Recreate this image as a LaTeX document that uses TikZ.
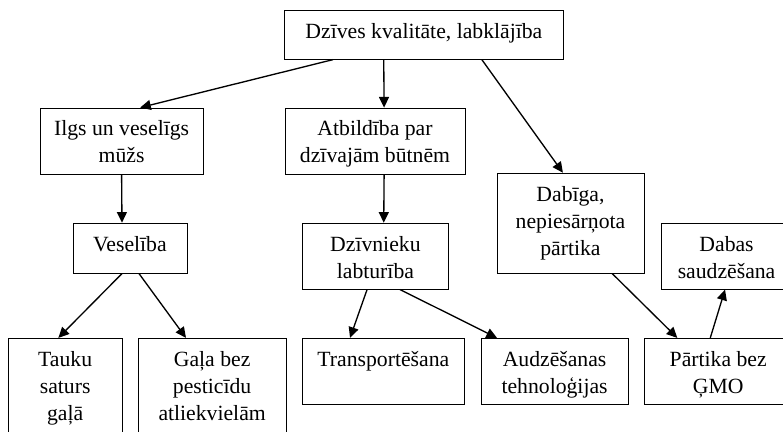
\documentclass[tikz,border=0pt]{standalone}
\usepackage{fontspec}
\setmainfont{Liberation Serif}
\usetikzlibrary{arrows.meta}

\begin{document}
\begin{tikzpicture}[
  box/.style={shape=rectangle, draw=black, line width=0.6pt, align=center, anchor=north,
    inner ysep=3pt, font=\fontsize{16.3pt}{20.25pt}\selectfont},
  oneline/.style={text height=18pt},
  twolines/.style={text height=38.25pt},
  threelines/.style={text height=58.5pt},
  flow/.style={-{Triangle[length=8pt,width=7.5pt]}, line width=1pt}]

\useasboundingbox (0,0) rectangle (20.67,11.40);
\clip (0,0) rectangle (20.67,11.40);

%draw top node
\node [box, oneline, minimum width = 7.34cm, text depth=12.8pt] at (11.19,11.14) (top) {Dzīves kvalitāte, labklājība};

%draw second row
\node [box, twolines, minimum width = 4.30cm, text depth=5.35pt] at (3.21,8.56) (ilgs) {Ilgs un veselīgs\\mūžs};
\node [box, twolines, minimum width = 4.75cm, text depth=5.35pt] at (9.90,8.56) (atb) {Atbildība par\\dzīvajām būtnēm};
\node [box, threelines, minimum width = 3.88cm, text depth=10.6pt] at (15.06,6.84) (dab) {Dabīga,\\nepiesārņota\\pārtika};

%draw third row
\node [box, oneline, minimum width = 3.01cm, text depth=13.6pt] at (3.43,5.52) (ves) {Veselība};
\node [box, twolines, minimum width = 3.88cm, text depth=5.35pt] at (9.91,5.52) (dzv) {Dzīvnieku\\labturība};
\node [box, twolines, minimum width = 3.46cm, text depth=5.35pt] at (19.18,5.52) (dabas) {Dabas\\saudzēšana};

%draw bottom row (cut by the page)
\node [box, threelines, minimum width = 3.01cm, text depth=40pt] at (1.72,2.48) (tauku) {Tauku\\saturs\\gaļā};
\node [box, threelines, minimum width = 3.91cm, text depth=40pt] at (5.60,2.48) (gala) {Gaļa bez\\pesticīdu\\atliekvielām};
\node [box, oneline, minimum width = 4.30cm, text depth=25.6pt] at (10.12,2.48) (trans) {Transportēšana};
\node [box, twolines, minimum width = 3.88cm, text depth=5.35pt] at (14.64,2.48) (audz) {Audzēšanas\\tehnoloģijas};
\node [box, twolines, minimum width = 3.91cm, text depth=5.35pt] at (18.96,2.48) (part) {Pārtika bez\\ĢMO};

%arrows from top node
\draw [flow] ([xshift=-2.40cm]top.south) -- ([xshift=0.49cm]ilgs.north);
\draw [flow] ([xshift=-1.06cm]top.south) -- ([xshift=0.24cm]atb.north);
\draw [flow] ([xshift=1.53cm]top.south) -- ([xshift=-0.20cm]dab.north);

%arrows down to third row
\draw [flow] (ilgs.south) -- ([xshift=-0.21cm]ves.north);
\draw [flow] ([xshift=0.24cm]atb.south) -- ([xshift=0.22cm]dzv.north);

%arrows to bottom row
\draw [flow] ([xshift=-0.21cm]ves.south) -- ([xshift=-0.18cm]tauku.north);
\draw [flow] ([xshift=0.24cm]ves.south) -- ([xshift=-0.69cm]gala.north);
\draw [flow] ([xshift=-0.22cm]dzv.south) -- ([xshift=-0.88cm]trans.north);
\draw [flow] ([xshift=0.65cm]dzv.south) -- ([xshift=-1.52cm]audz.north);
\draw [flow] ([xshift=1.10cm]dab.south) -- ([xshift=-1.08cm]part.north);
\draw [flow] ([xshift=-0.21cm]part.north) -- ([xshift=-0.04cm]dabas.south);
\end{tikzpicture}
\end{document}
